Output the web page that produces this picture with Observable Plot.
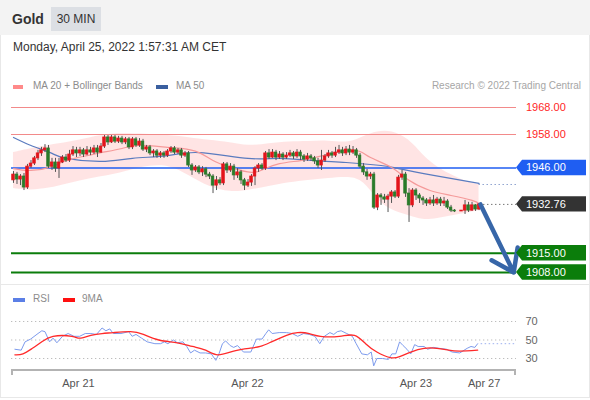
<!DOCTYPE html>
<html><head><meta charset="utf-8">
<script src="https://cdn.jsdelivr.net/npm/d3@7"></script>
<script src="https://cdn.jsdelivr.net/npm/@observablehq/plot@0.6"></script>
<style>
html,body{margin:0;padding:0;background:#fff;}
body{width:590px;height:400px;overflow:hidden;font-family:"Liberation Sans",Arial,sans-serif;}
#root{position:relative;width:590px;height:400px;}
.abs{position:absolute;white-space:nowrap;}
.sw{position:absolute;height:4px;}
</style></head><body><div id="root">
<div class="abs" style="left:0;top:0;width:590px;height:35px;background:#f3f3f3"></div>
<div class="abs" style="left:0;top:35px;width:588px;height:362px;border:1px solid #e8e8e8;border-top:none"></div>
<div class="abs" style="left:12px;top:2px;line-height:35px;font-size:14px;font-weight:bold;color:#333">Gold</div>
<div class="abs" style="left:51px;top:7px;width:50px;height:24px;line-height:24px;text-align:center;background:#dcdfe4;font-size:12px;color:#333">30 MIN</div>
<div class="abs" style="left:13px;top:40px;line-height:14px;font-size:12px;color:#333">Monday, April 25, 2022 1:57:31 AM CET</div>
<div class="sw" style="left:13px;top:85px;width:10px;background:#ff8a8a"></div>
<div class="abs" style="left:33px;top:80px;line-height:12px;font-size:10px;color:#8c8c8c">MA 20 + Bollinger Bands</div>
<div class="sw" style="left:156px;top:85px;width:12px;background:#3a5f9f"></div>
<div class="abs" style="left:176px;top:80px;line-height:12px;font-size:10px;color:#8c8c8c">MA 50</div>
<div class="abs" style="right:9px;top:80px;line-height:12px;font-size:10px;color:#a6a6a6">Research © 2022 Trading Central</div>
<div class="abs" style="left:0;top:284px;width:590px;height:1px;background:#e8e8e8"></div>
<div class="sw" style="left:13px;top:298px;width:12px;background:#5b7fe6"></div>
<div class="abs" style="left:33px;top:293px;line-height:12px;font-size:10px;color:#8c8c8c">RSI</div>
<div class="sw" style="left:63px;top:298px;width:12px;background:#ff1010"></div>
<div class="abs" style="left:82px;top:293px;line-height:12px;font-size:10px;color:#8c8c8c">9MA</div>
</div>
<script>
// ---- Candles (30 min, Gold) ----
const opens = [1941.5,1943.6,1941.8,1942.9,1938.9,1946.5,1947.6,1949.5,1951.3,1952.4,
 1953.1,1946.5,1948.0,1945.8,1948.0,1949.8,1948.7,1950.9,1952.4,1951.3,
 1952.4,1950.9,1952.4,1951.6,1953.1,1951.6,1953.8,1957.1,1955.3,1957.1,
 1955.6,1956.7,1955.3,1956.4,1953.5,1956.4,1954.2,1955.6,1952.7,1953.5,
 1951.3,1952.0,1950.5,1951.3,1950.5,1952.0,1953.1,1951.6,1952.4,1950.5,
 1951.3,1946.9,1945.1,1946.2,1944.4,1945.5,1943.6,1942.9,1939.6,1941.5,
 1940.4,1947.3,1945.1,1946.5,1943.3,1944.4,1941.5,1939.6,1940.7,1942.9,
 1945.8,1946.9,1945.8,1951.3,1949.8,1951.6,1949.8,1950.9,1949.8,1950.5,
 1951.3,1950.2,1951.6,1950.2,1949.1,1950.2,1949.5,1948.4,1946.9,1948.7,
 1950.2,1951.3,1950.5,1951.6,1952.4,1951.3,1952.7,1951.6,1952.4,1950.5,
 1946.5,1944.4,1942.9,1943.6,1931.6,1936.0,1935.3,1934.5,1935.6,1937.1,
 1935.6,1942.5,1943.6,1936.7,1932.4,1937.8,1936.0,1934.9,1934.2,1933.1,
 1934.2,1933.1,1934.5,1933.1,1933.8,1931.6,1930.5,1930.2,1930.2,1930.5,
 1932.4,1930.5,1932.4,1930.9];
const highs = [1944.7,1944.4,1943.6,1944.0,1947.3,1948.7,1950.2,1952.4,1953.5,1954.5,
 1954.2,1949.5,1949.5,1949.5,1950.5,1950.9,1952.4,1953.8,1953.5,1953.5,
 1953.1,1953.8,1953.5,1954.2,1954.2,1954.9,1957.8,1957.8,1957.8,1957.8,
 1957.5,1957.5,1957.1,1957.1,1957.1,1957.1,1956.7,1956.4,1954.2,1954.2,
 1952.7,1952.7,1952.0,1952.0,1952.7,1953.8,1953.8,1953.1,1953.1,1952.0,
 1952.0,1947.6,1946.9,1946.9,1946.5,1946.2,1944.4,1943.6,1942.9,1942.5,
 1948.0,1948.0,1947.6,1947.3,1945.8,1945.1,1942.2,1941.8,1943.6,1946.5,
 1947.6,1947.6,1952.0,1952.7,1952.7,1952.4,1952.0,1951.6,1951.6,1952.4,
 1952.0,1952.7,1952.4,1950.9,1951.3,1950.9,1950.2,1949.5,1952.4,1950.9,
 1952.4,1952.0,1953.5,1954.2,1953.5,1953.8,1954.2,1953.8,1953.1,1951.3,
 1947.6,1945.5,1944.4,1944.4,1936.7,1936.7,1936.4,1936.4,1937.8,1937.8,
 1943.3,1945.1,1944.4,1938.5,1938.5,1938.5,1936.7,1935.6,1934.9,1935.3,
 1936.0,1935.3,1935.3,1935.3,1934.5,1932.4,1930.9,1930.2,1930.5,1934.2,
 1933.5,1933.5,1932.7,1933.1];
const lows = [1940.4,1940.0,1939.6,1937.8,1938.2,1945.8,1946.9,1948.7,1950.2,1951.6,
 1945.8,1945.1,1944.4,1942.2,1947.6,1948.0,1948.0,1950.2,1949.8,1950.2,
 1949.8,1950.5,1950.5,1950.9,1949.8,1951.3,1953.1,1954.2,1954.9,1954.9,
 1954.9,1954.5,1954.5,1952.7,1952.7,1953.5,1953.5,1952.0,1951.6,1950.5,
 1949.8,1949.5,1949.5,1949.5,1949.8,1951.3,1950.9,1950.9,1949.5,1949.8,
 1946.2,1943.3,1944.4,1943.6,1942.9,1942.5,1941.8,1936.7,1937.8,1939.6,
 1939.6,1944.0,1944.4,1941.5,1942.2,1940.0,1937.8,1938.9,1939.3,1939.6,
 1944.4,1945.1,1945.1,1949.1,1949.5,1948.7,1949.1,1948.7,1949.1,1949.8,
 1949.1,1949.5,1948.7,1948.0,1948.4,1948.4,1947.3,1945.8,1945.1,1948.0,
 1949.5,1949.5,1949.8,1950.9,1950.2,1950.5,1950.5,1950.9,1949.5,1945.8,
 1943.3,1941.5,1941.8,1930.9,1930.5,1932.4,1933.1,1929.8,1933.1,1934.9,
 1934.9,1941.5,1935.3,1926.2,1931.6,1934.2,1933.1,1932.4,1932.0,1932.4,
 1932.0,1932.4,1932.0,1932.0,1930.9,1929.8,1929.8,1930.2,1930.2,1929.1,
 1929.8,1930.2,1930.2,1930.5];
const closes = [1943.6,1941.8,1942.9,1938.9,1946.5,1947.6,1949.5,1951.3,1952.4,1953.1,
 1946.5,1948.0,1945.8,1948.0,1949.8,1948.7,1950.9,1952.4,1951.3,1952.4,
 1950.9,1952.4,1951.6,1953.1,1951.6,1953.8,1957.1,1955.3,1957.1,1955.6,
 1956.7,1955.3,1956.4,1953.5,1956.4,1954.2,1955.6,1952.7,1953.5,1951.3,
 1952.0,1950.5,1951.3,1950.5,1952.0,1953.1,1951.6,1952.4,1950.5,1951.3,
 1946.9,1945.1,1946.2,1944.4,1945.5,1943.6,1942.9,1939.6,1941.5,1940.4,
 1947.3,1945.1,1946.5,1943.3,1944.4,1941.5,1939.6,1940.7,1942.9,1945.8,
 1946.9,1945.8,1951.3,1949.8,1951.6,1949.8,1950.9,1949.8,1950.5,1951.3,
 1950.2,1951.6,1950.2,1949.1,1950.2,1949.5,1948.4,1946.9,1948.7,1950.2,
 1951.3,1950.5,1951.6,1952.4,1951.3,1952.7,1951.6,1952.4,1950.5,1946.5,
 1944.4,1942.9,1943.6,1931.6,1936.0,1935.3,1934.5,1935.6,1937.1,1935.6,
 1942.5,1943.6,1936.7,1932.4,1937.8,1936.0,1934.9,1934.2,1933.1,1934.2,
 1933.1,1934.5,1933.1,1933.8,1931.6,1930.5,1930.2,1930.2,1930.5,1932.4,
 1930.5,1932.4,1930.9,1932.76];

// ---- Bollinger bands (20) ----
const bandIdx = [0,5,10,16,22,28,33,39,45,50,56,62,67,73,79,84,90,96,100,104,108,113,117,121,126,130,133];
const bandUpper = [1951.6,1953.1,1954.2,1955.3,1957.1,1958.5,1958.5,1958.2,1957.8,1957.1,1956.0,1955.3,1953.8,1954.9,1955.6,1955.6,1956.0,1954.9,1957.5,1959.3,1959.6,1956.7,1950.5,1946.2,1942.9,1940.7,1940.0];
const bandLower = [1938.5,1937.8,1938.5,1940.4,1942.2,1943.3,1945.1,1946.9,1946.9,1943.3,1938.9,1937.1,1937.8,1939.3,1940.7,1941.5,1942.2,1942.9,1941.5,1934.2,1930.5,1928.7,1926.9,1927.6,1928.7,1929.8,1930.5];

// ---- MA 20 ----
const ma20Idx = [0,5,11,15,21,25,31,36,44,48,53,57,62,68,72,76,82,86,91,95,99,102,108,113,119,125,131,133];
const ma20Val = [1945.8,1945.1,1946.5,1948.7,1950.5,1951.6,1953.1,1954.2,1953.5,1953.1,1951.6,1948.7,1946.2,1944.4,1945.8,1947.6,1948.7,1949.8,1951.3,1952.4,1952.0,1949.8,1946.2,1941.5,1937.8,1936.0,1934.2,1933.1];

// ---- MA 50 ----
const ma50Idx = [0,5,11,15,25,34,44,53,67,76,86,95,105,110,120,133];
const ma50Val = [1957.1,1954.2,1951.3,1949.5,1948.4,1949.5,1950.5,1951.6,1949.5,1949.5,1948.7,1948.0,1946.9,1945.8,1943.3,1940.4];
const ma50Next = 1940.0;

// ---- Levels ----
const resistanceLevels = [1968, 1958];
const pivotLevel = 1946;
const supportLevels = [1915, 1908];
const lastPrice = 1932.76;
const forecastTarget = 1908;

// ---- RSI ----
const rsiIdx = [0.4,2.2,3.3,4.9,7.0,8.1,9.0,10.3,11.3,12.4,14.0,15.6,17.3,18.9,20.5,22.1,23.7,25.3,26.4,27.5,
 28.5,30.7,32.9,33.9,35.0,36.6,38.2,40.4,42.0,43.1,44.1,45.7,46.8,48.4,49.5,50.6,51.7,53.3,54.9,56.5,
 57.8,58.7,59.7,60.6,61.9,62.9,64.0,65.7,67.8,69.4,71.0,72.1,72.9,73.9,75.9,78.0,79.6,81.2,82.9,84.5,
 86.1,87.5,88.8,90.4,91.5,92.5,93.6,95.2,96.8,97.9,99.5,101.1,102.2,102.9,103.8,105.4,107.1,108.1,109.2,110.3,
 111.3,112.4,113.5,114.6,115.6,117.3,118.3,119.9,121.6,123.7,125.3,127.5,129.6,130.7,131.8,132.6];
const rsiVal = [40,39,48,51,57,60,59,48,52,47,54,57,54,54,57,57,56,63,60,62,
 57,57,59,54,56,52,48,46,46,48,46,50,47,48,43,36,39,36,36,35,
 28,35,46,49,44,42,44,37,37,51,51,57,61,57,58,58,57,54,57,56,
 54,46,54,58,56,59,60,57,54,46,35,34,37,22,30,30,29,35,35,48,
 44,40,35,45,43,43,40,42,41,40,37,36,41,43,42,46];
const rsiMaIdx = [0.4,2.7,5.4,8.1,11.3,16.7,18.9,22.1,25.3,28.5,33.4,37.1,41.5,46.8,51.1,54.9,58.4,62.9,67.3,70.5,73.7,78.0,81.2,84.5,87.7,93.1,97.4,100.6,103.8,107.6,110.3,113.5,117.3,121.0,124.3,127.5,132.6];
const rsiMaVal = [34,35,41,48,54,54,52,55,57,58,59,56,50,47,43,39,34,38,41,43,48,55,58,57,54,54,55,46,37,31,32,37,41,41,39,38,39];
const rsiTicks = [30, 50, 70];

// ---- Time axis ----
const xTickIdx = [18.7, 67.0, 115.1, 134.6];
const xTickLabels = ["Apr 21", "Apr 22", "Apr 23", "Apr 27"];

// ---------------------------------------------------
const FONT = '"Liberation Sans", Arial, sans-serif';
const RED = "#e3141b", GREEN = "#2a7b2a";
const xDomain = [-0.57, 143.7];
const lastIdx = closes.length - 1;

const candles = closes.map((c, i) => ({i, o: opens[i], h: highs[i], l: lows[i], c}));
const bandRows = bandIdx.map((x, k) => ({x, lo: bandLower[k], hi: bandUpper[k]}));
const ma20Rows = ma20Idx.map((x, k) => ({x, y: ma20Val[k]}));
const ma50Rows = ma50Idx.map((x, k) => ({x, y: ma50Val[k]}));
const rsiRows = rsiIdx.map((x, k) => ({x, y: rsiVal[k]}));
const rsiMaRows = rsiMaIdx.map((x, k) => ({x, y: rsiMaVal[k]}));

const tags = [
  ...resistanceLevels.map(v => ({value: v, text: "#ff1f1f"})),
  {value: pivotLevel, box: "#1f5ef2", text: "#fff"},
  {value: lastPrice, box: "#333333", text: "#fff"},
  ...supportLevels.map(v => ({value: v, box: "#0b7d0b", text: "#fff"}))
];

function priceTags(index, scales, values, dims) {
  const y = scales.y;
  const x0 = dims.width - dims.marginRight;
  const g = d3.create("svg:g").attr("font-size", 11).attr("font-family", FONT).attr("text-anchor", "start");
  for (const t of tags) {
    const yy = y(t.value);
    if (t.box) {
      g.append("path")
        .attr("d", `M${x0},${yy}L${x0 + 6},${yy - 7.7}H${dims.width - 4}V${yy + 7.7}H${x0 + 6}Z`)
        .attr("fill", t.box);
    }
    g.append("text").attr("x", x0 + 10).attr("y", yy).attr("dy", "0.36em")
      .attr("text-anchor", "start").attr("fill", t.text).text(t.value.toFixed(2));
  }
  return g.node();
}

function resistanceLines(index, scales, values, dims) {
  const y = scales.y;
  const g = d3.create("svg:g");
  for (const v of resistanceLevels) {
    const yy = Math.round(y(v)) + 0.5;
    g.append("line").attr("x1", dims.marginLeft).attr("x2", dims.width - dims.marginRight)
      .attr("y1", yy).attr("y2", yy).attr("stroke", "#f28a8a").attr("stroke-width", 1);
  }
  return g.node();
}

function timeAxis(index, scales, values, dims) {
  const x = scales.x;
  const yb = dims.height - dims.marginBottom;
  const l = dims.marginLeft, r = dims.width - dims.marginRight;
  const g = d3.create("svg:g").attr("font-family", FONT);
  g.append("path").attr("d", `M${l + 1},${yb + 5}V${yb}H${r - 1}V${yb + 5}`)
    .attr("fill", "none").attr("stroke", "#b3b3b3").attr("stroke-width", 2);
  xTickIdx.forEach((t, k) => {
    g.append("text").attr("x", x(t)).attr("y", yb + 13).attr("dy", "0.36em")
      .attr("text-anchor", "middle").attr("fill", "#555").attr("font-size", 11)
      .text(xTickLabels[k]);
  });
  return g.node();
}

const main = Plot.plot({
  width: 590, height: 190,
  marginTop: 0, marginBottom: 0, marginLeft: 11, marginRight: 74,
  style: {background: "transparent", fontFamily: FONT, overflow: "visible"},
  x: {domain: xDomain, axis: null},
  y: {domain: [1903.27, 1972.36], axis: null},
  color: {type: "identity"},
  marks: [
    Plot.areaY(bandRows, {x: "x", y1: "lo", y2: "hi", fill: "#ffd9d9", fillOpacity: 0.7, curve: "basis"}),
    resistanceLines,
    Plot.ruleY([pivotLevel], {stroke: "#1f5ef2", strokeWidth: 1.5}),
    Plot.ruleY(supportLevels, {stroke: "#0b7d0b", strokeWidth: 2}),
    Plot.line(ma50Rows, {x: "x", y: "y", stroke: "#5a7bbf", strokeWidth: 1.2, curve: "natural"}),
    Plot.line(ma20Rows, {x: "x", y: "y", stroke: "#f59a9a", strokeWidth: 1.2, curve: "natural"}),
    Plot.ruleY([ma50Next], {x1: lastIdx, x2: xDomain[1], stroke: "#7e95c8", strokeDasharray: "1.3,2.7"}),
    Plot.ruleY([lastPrice], {x1: lastIdx + 1.3, x2: xDomain[1], stroke: "#666", strokeDasharray: "1.3,2.7"}),
    Plot.ruleX(candles, {x: "i", y1: "l", y2: "h", stroke: "#555", strokeWidth: 1}),
    Plot.rect(candles, {
      x1: d => d.i - 0.36, x2: d => d.i + 0.36,
      y1: d => Math.min(d.o, d.c), y2: d => Math.max(d.o, d.c),
      fill: d => d.c > d.o ? RED : GREEN, stroke: d => d.c > d.o ? RED : GREEN, strokeWidth: 0.8
    }),
    Plot.arrow([{a: lastIdx + 0.4, b: lastPrice, c: xDomain[1] - 0.8, d: forecastTarget}],
      {x1: "a", y1: "b", x2: "c", y2: "d", stroke: "#3766a8", strokeWidth: 4.5, headLength: 12, headAngle: 70}),
    priceTags
  ]
});
main.style.position = "absolute"; main.style.left = "0px"; main.style.top = "95px";

const rsi = Plot.plot({
  width: 590, height: 112,
  marginTop: 0, marginBottom: 27, marginLeft: 11, marginRight: 74,
  style: {background: "transparent", fontFamily: FONT, fontSize: "11px", color: "#666", overflow: "visible"},
  x: {domain: xDomain, axis: null},
  y: {domain: [17.03, 108.92], axis: "right", ticks: rsiTicks, tickSize: 0, tickPadding: 9, label: null},
  marks: [
    Plot.ruleY(rsiTicks, {stroke: "#bdbdbd", strokeDasharray: "1.3,2.7"}),
    Plot.line(rsiRows, {x: "x", y: "y", stroke: "#7d9bed", strokeWidth: 1}),
    Plot.line(rsiMaRows, {x: "x", y: "y", stroke: "#ff2a2a", strokeWidth: 1.3, curve: "natural"}),
    Plot.ruleY([rsiVal[rsiVal.length - 1]], {x1: rsiIdx[rsiIdx.length - 1] + 1, x2: xDomain[1], stroke: "#9db0ef", strokeDasharray: "1.5,2.5"}),
    timeAxis
  ]
});
rsi.style.position = "absolute"; rsi.style.left = "0px"; rsi.style.top = "285px";

const root = document.getElementById("root");
root.append(main, rsi);
</script>
</body></html>
